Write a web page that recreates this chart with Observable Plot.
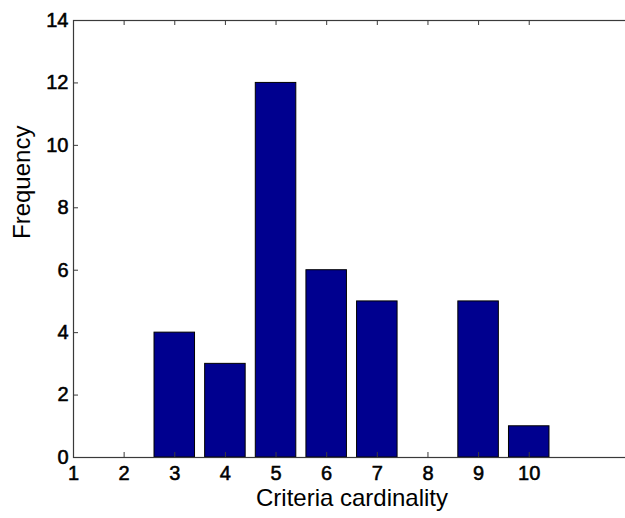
<!DOCTYPE html>
<html>
<head>
<meta charset="utf-8">
<script src="https://cdn.jsdelivr.net/npm/d3@7"></script>
<script src="https://cdn.jsdelivr.net/npm/@observablehq/plot@0.6"></script>
<style>
  html, body { margin: 0; padding: 0; background: #fff; }
  g[aria-label="x-axis tick label"] text,
  g[aria-label="y-axis tick label"] text { stroke: #000; stroke-width: 0.55px; }
</style>
</head>
<body>
<div id="chart"></div>
<script>
// Data
const cardinality = [1, 2, 3, 4, 5, 6, 7, 8, 9, 10];
const frequency   = [0, 0, 4, 3, 12, 6, 5, 0, 5, 1];
const xTicks = [1, 2, 3, 4, 5, 6, 7, 8, 9, 10];
const yTicks = [0, 2, 4, 6, 8, 10, 12, 14];
const xLabel = "Criteria cardinality";
const yLabel = "Frequency";

const rows = cardinality.map((c, i) => ({c, f: frequency[i]})).filter(d => d.f > 0);

const W = 625, H = 518, mL = 73, mT = 20, mB = 61, mR = -5;
const frameW = W - mR - mL, frameH = H - mT - mB;
const tickLen = 5;
const barHalf = 0.4;
const axisColor = "#3a3a3a";
const font = "'Liberation Sans', Arial, Helvetica, sans-serif";

const chart = Plot.plot({
  width: W,
  height: H,
  marginLeft: mL,
  marginRight: mR,
  marginTop: mT,
  marginBottom: mB,
  style: {fontFamily: font, fontSize: "20px", color: "#000", background: "#fff"},
  x: {type: "linear", domain: [1, 12]},
  y: {domain: [0, 14]},
  marks: [
    Plot.rectY(rows, {
      x1: d => d.c - barHalf,
      x2: d => d.c + barHalf,
      y: "f",
      fill: "#00008f",
      stroke: "#000",
      strokeWidth: 1
    }),
    Plot.frame({stroke: axisColor, strokeWidth: 1.2}),
    // inward ticks (MATLAB style)
    Plot.tickX(xTicks, {x: d => d, insetTop: frameH - tickLen, stroke: axisColor}),
    Plot.tickX(xTicks, {x: d => d, insetBottom: frameH - tickLen, stroke: axisColor}),
    Plot.tickY(yTicks, {y: d => d, insetRight: frameW - tickLen, stroke: axisColor}),
    Plot.tickY(yTicks, {y: d => d, insetLeft: frameW - tickLen, stroke: axisColor}),
    Plot.axisX({ticks: xTicks, tickSize: 0, tickPadding: 8, fontSize: 20, fill: "#000", tickFormat: d => String(d), label: null}),
    Plot.axisY({ticks: yTicks, tickSize: 0, tickPadding: 5, fontSize: 20, fill: "#000", tickFormat: d => String(d), label: null}),
    Plot.text([xLabel], {text: d => d, frameAnchor: "bottom", dy: 48, fontSize: 24, fill: "#000"}),
    Plot.text([yLabel], {text: d => d, frameAnchor: "left", dx: -51, rotate: -90, fontSize: 24, fill: "#000"})
  ]
});
document.getElementById("chart").appendChild(chart);
</script>
</body>
</html>
